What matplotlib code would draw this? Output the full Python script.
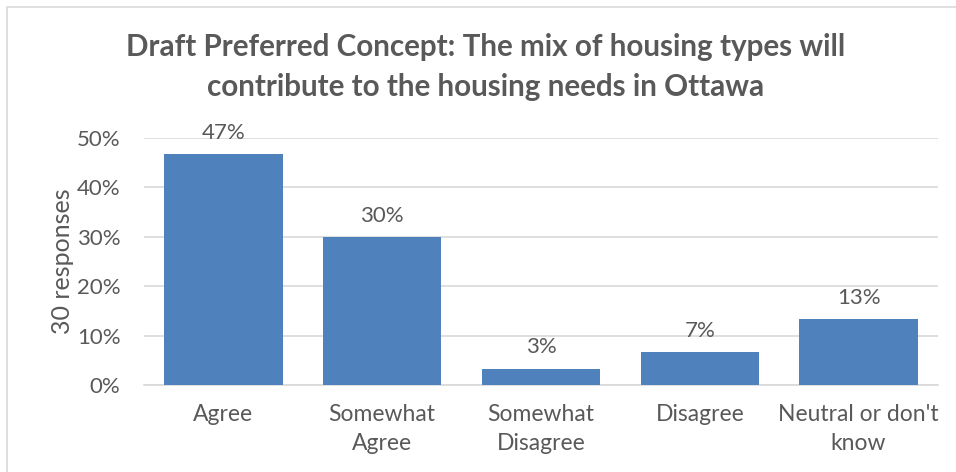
import matplotlib
matplotlib.use("Agg")
import matplotlib.pyplot as plt
from matplotlib.ticker import PercentFormatter, MultipleLocator
from matplotlib.patches import Rectangle

categories = ["Agree", "Somewhat\nAgree", "Somewhat\nDisagree", "Disagree", "Neutral or don't\nknow"]
values = [46.67, 30.0, 3.33, 6.67, 13.33]
labels = ["47%", "30%", "3%", "7%", "13%"]

title_lines = ["Draft Preferred Concept: The mix of housing types will",
               "contribute to the housing needs in Ottawa"]
ylabel = "30 responses"

bar_color = "#4F81BD"
text_color = "#595959"
grid_color = "#D9D9D9"

plt.rcParams['font.family'] = ['Lato', 'DejaVu Sans']

fig = plt.figure(figsize=(9.56, 4.72), dpi=100)
fig.patches.append(Rectangle((7/956, -0.1), 1.5, 1.1 - 7/472, transform=fig.transFigure,
                             fill=False, edgecolor="#D9D9D9", linewidth=1.2))

ax = fig.add_axes([144/956, (472-385)/472, (938-144)/956, (385-138)/472])
x = range(len(categories))
bars = ax.bar(x, values, width=0.745, color=bar_color, zorder=3)
ax.set_ylim(0, 50)
ax.set_xlim(-0.5, len(categories) - 0.5)
ax.yaxis.set_major_locator(MultipleLocator(10))
ax.yaxis.set_major_formatter(PercentFormatter(decimals=0))
ax.grid(axis='y', color=grid_color, linewidth=1.2, zorder=0)
for s in ['top', 'right', 'left']:
    ax.spines[s].set_visible(False)
ax.spines['bottom'].set_color(grid_color)
ax.spines['bottom'].set_linewidth(1.2)
ax.tick_params(axis='both', length=0, labelcolor=text_color)
ax.tick_params(axis='x', pad=14, labelsize=16.5)
ax.tick_params(axis='y', pad=17, labelsize=16)
ax.set_xticks(list(x))
ax.set_xticklabels(categories, linespacing=1.45)
ax.set_ylabel(ylabel, fontsize=18, color=text_color, labelpad=2)
for b, lab in zip(bars, labels):
    ax.annotate(lab, (b.get_x() + b.get_width() / 2, b.get_height()),
                xytext=(0, 8), textcoords='offset points', ha='center', va='bottom',
                fontsize=16, color=text_color, annotation_clip=False)

for i, line in enumerate(title_lines):
    fig.text(486/956, 1 - (47 + 40 * i)/472, line, ha='center', va='center', fontsize=21.3,
             fontweight='bold', color=text_color)

fig.savefig("out.png", dpi=100, facecolor="white")
